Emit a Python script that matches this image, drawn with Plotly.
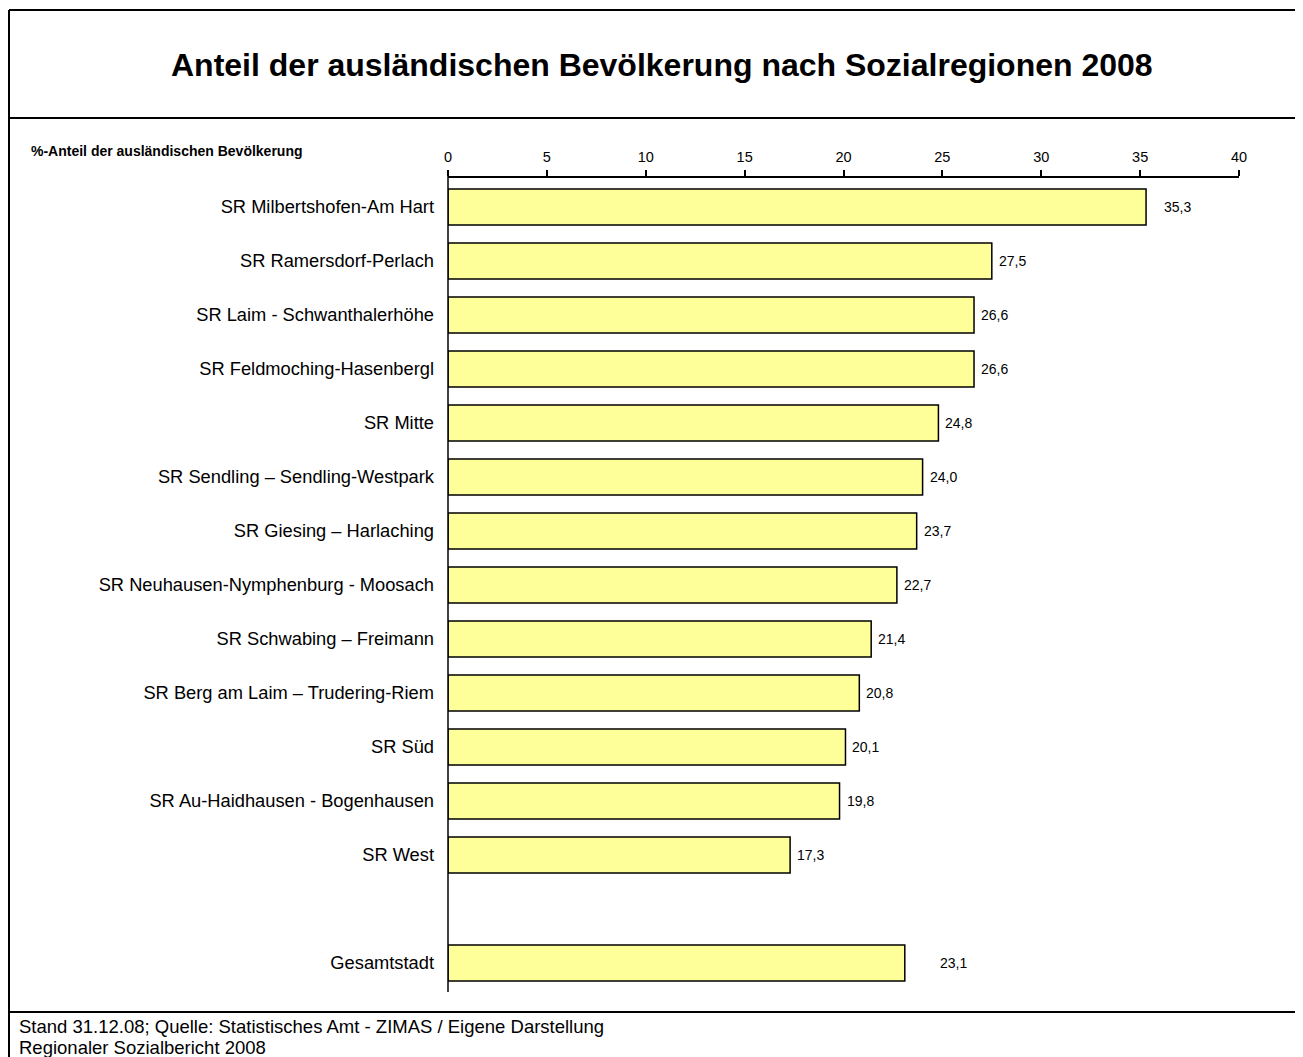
import plotly.graph_objects as go

regions = [
    "SR Milbertshofen-Am Hart",
    "SR Ramersdorf-Perlach",
    "SR Laim - Schwanthalerhöhe",
    "SR Feldmoching-Hasenbergl",
    "SR Mitte",
    "SR Sendling – Sendling-Westpark",
    "SR Giesing – Harlaching",
    "SR Neuhausen-Nymphenburg - Moosach",
    "SR Schwabing – Freimann",
    "SR Berg am Laim – Trudering-Riem",
    "SR Süd",
    "SR Au-Haidhausen - Bogenhausen",
    "SR West",
]
region_values = [35.3, 27.5, 26.6, 26.6, 24.8, 24.0, 23.7, 22.7, 21.4, 20.8, 20.1, 19.8, 17.3]
total_label = "Gesamtstadt"
total_value = 23.1
x_ticks = [0, 5, 10, 15, 20, 25, 30, 35, 40]

W, H = 1303, 1057
OFF = 8  # page margin of the browser
L, R, T, B = 448 - OFF, 1239 - OFF, 178 - OFF, 990 - OFF  # plot area in pixels
FONT = "Arial, Liberation Sans, sans-serif"

spacer = " "
categories = regions + [spacer, total_label]
values = region_values + [None, total_value]


def px(x):
    return (x - OFF - L) / (R - L)


def py(y):
    return (B - (y - OFF)) / (B - T)


fig = go.Figure(go.Bar(
    x=values,
    y=categories,
    orientation="h",
    width=0.667,
    marker=dict(color="#FFFF99", line=dict(color="#000000", width=1.5)),
    hoverinfo="x+y",
))

# value labels (first and total bar are set further away in the original)
for cat, v in zip(categories, values):
    if v is None:
        continue
    gap = 5
    if cat == regions[0]:
        gap = 16
    if cat == total_label:
        gap = 33
    fig.add_annotation(
        x=v, y=cat, xref="x", yref="y",
        text=f"{v:.1f}".replace(".", ","),
        showarrow=False, xanchor="left", xshift=gap,
        font=dict(family=FONT, size=14, color="#000000"),
    )

fig.add_annotation(
    x=px(29), y=py(151), xref="paper", yref="paper",
    text="<b>%-Anteil der ausländischen Bevölkerung</b>",
    showarrow=False, xanchor="left", yanchor="middle",
    font=dict(family=FONT, size=14, color="#000000"),
)
fig.add_annotation(
    x=px(662), y=py(65), xref="paper", yref="paper",
    text="<b>Anteil der ausländischen Bevölkerung nach Sozialregionen 2008</b>",
    showarrow=False, xanchor="center", yanchor="middle",
    font=dict(family=FONT, size=32, color="#000000"),
)
footer = [
    "Stand 31.12.08; Quelle: Statistisches Amt - ZIMAS / Eigene Darstellung",
    "Regionaler Sozialbericht 2008",
]
for i, line in enumerate(footer):
    fig.add_annotation(
        x=px(17), y=py(1026 + 21 * i), xref="paper", yref="paper",
        text=line, showarrow=False, xanchor="left", yanchor="middle",
        font=dict(family=FONT, size=18.5, color="#000000"),
    )

# frame lines
frame = dict(color="#000000", width=2)
fig.add_shape(type="line", xref="paper", yref="paper", x0=px(9), x1=px(1320), y0=py(10), y1=py(10), line=frame)
fig.add_shape(type="line", xref="paper", yref="paper", x0=px(9), x1=px(9), y0=py(10), y1=py(1070), line=frame)
fig.add_shape(type="line", xref="paper", yref="paper", x0=px(9), x1=px(1320), y0=py(118), y1=py(118), line=frame)
fig.add_shape(type="line", xref="paper", yref="paper", x0=px(9), x1=px(1320), y0=py(1012), y1=py(1012), line=frame)
# category axis line
fig.add_shape(type="line", xref="paper", yref="paper", x0=0, x1=0, y0=py(175), y1=py(992),
              line=dict(color="#000000", width=1.5))

fig.update_layout(
    width=W, height=H,
    margin=dict(l=L, r=W - R, t=T, b=H - B),
    paper_bgcolor="white",
    plot_bgcolor="white",
    showlegend=False,
    font=dict(family=FONT, size=12, color="#000000"),
    xaxis=dict(
        side="top", range=[0, 40], tickvals=x_ticks,
        showgrid=False, zeroline=False,
        showline=True, linecolor="#000000", linewidth=1.5,
        ticks="outside", ticklen=6, tickwidth=1.5, tickcolor="#000000",
        tickfont=dict(family=FONT, size=14.5, color="#000000"),
        ticklabelstandoff=2,
        fixedrange=True,
    ),
    yaxis=dict(
        type="category", categoryorder="array", categoryarray=categories,
        range=[len(categories) - 0.5, -0.537],
        showgrid=False, zeroline=False, showline=False,
        ticks="", ticklabelstandoff=13,
        tickfont=dict(family=FONT, size=18.3, color="#000000"),
        fixedrange=True,
    ),
)

fig.write_html("out.html")
